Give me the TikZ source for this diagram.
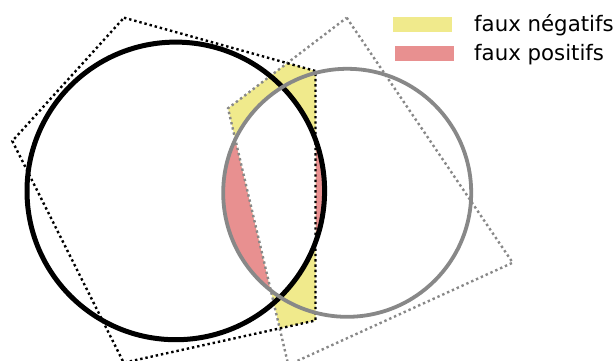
\documentclass[tikz,border=0pt]{standalone}
\usepackage{fontspec}
\setmainfont{DejaVu Sans}
\definecolor{fneg}{RGB}{240,234,140}
\definecolor{fpos}{RGB}{232,144,144}
\definecolor{mgray}{RGB}{136,136,136}
\tikzset{
  blackdot/.style={black,line width=2.4pt,dash pattern=on 2.4pt off 2.9pt},
  graydot/.style={mgray,line width=2.4pt,dash pattern=on 2.4pt off 2.9pt},
  blackcirc/.style={black,line width=5pt},
  graycirc/.style={mgray,line width=3.8pt},
  legtext/.style={anchor=base west,inner sep=0pt,font=\fontsize{21.3}{25}\selectfont},
}
\begin{document}
\begin{tikzpicture}[x=1pt,y=-1pt]
\useasboundingbox (0,0) rectangle (616,360);
% black polygon vertices
\coordinate (A) at (124,17.7);
\coordinate (B) at (315.5,71);
\coordinate (C) at (315.5,320.5);
\coordinate (D) at (123.7,362.7);
\coordinate (E) at (12.3,141);
% gray polygon vertices
\coordinate (P) at (346.7,17.7);
\coordinate (Q) at (512.7,262.7);
\coordinate (R) at (288.3,365);
\coordinate (S) at (228,108.3);
% circle centres
\coordinate (O1) at (175.8,190.9);
\coordinate (O2) at (347.2,192.8);
\def\rA{148.8}
\def\rB{124}
% false positives: the lens
\begin{scope}
  \clip (O1) circle[radius=\rA];
  \fill[fpos] (O2) circle[radius=\rB];
\end{scope}
% false negatives: box intersection
\begin{scope}
  \clip (A) -- (B) -- (C) -- (D) -- (E) -- cycle;
  \fill[fneg] (P) -- (Q) -- (R) -- (S) -- cycle;
\end{scope}
% lens inside box intersection: neither
\begin{scope}
  \clip (O1) circle[radius=\rA];
  \clip (O2) circle[radius=\rB];
  \clip (A) -- (B) -- (C) -- (D) -- (E) -- cycle;
  \fill[white] (P) -- (Q) -- (R) -- (S) -- cycle;
\end{scope}
% boxes
\draw[graydot] (P) -- (Q) -- (R) -- (S) -- cycle;
\draw[blackdot] (A) -- (B) -- (C) -- (D) -- (E) -- cycle;
% circles
\draw[blackcirc] (O1) circle[radius=\rA];
\draw[graycirc] (O2) circle[radius=\rB];
% legend
\fill[fneg] (393.3,16.7) rectangle (451.7,31.7);
\fill[fpos] (395,46) rectangle (454,60.7);
\node[legtext] (l1) at (474,31.7) {faux négatifs};
\node[legtext] (l2) at (474,60) {faux positifs};
\end{tikzpicture}
\end{document}
